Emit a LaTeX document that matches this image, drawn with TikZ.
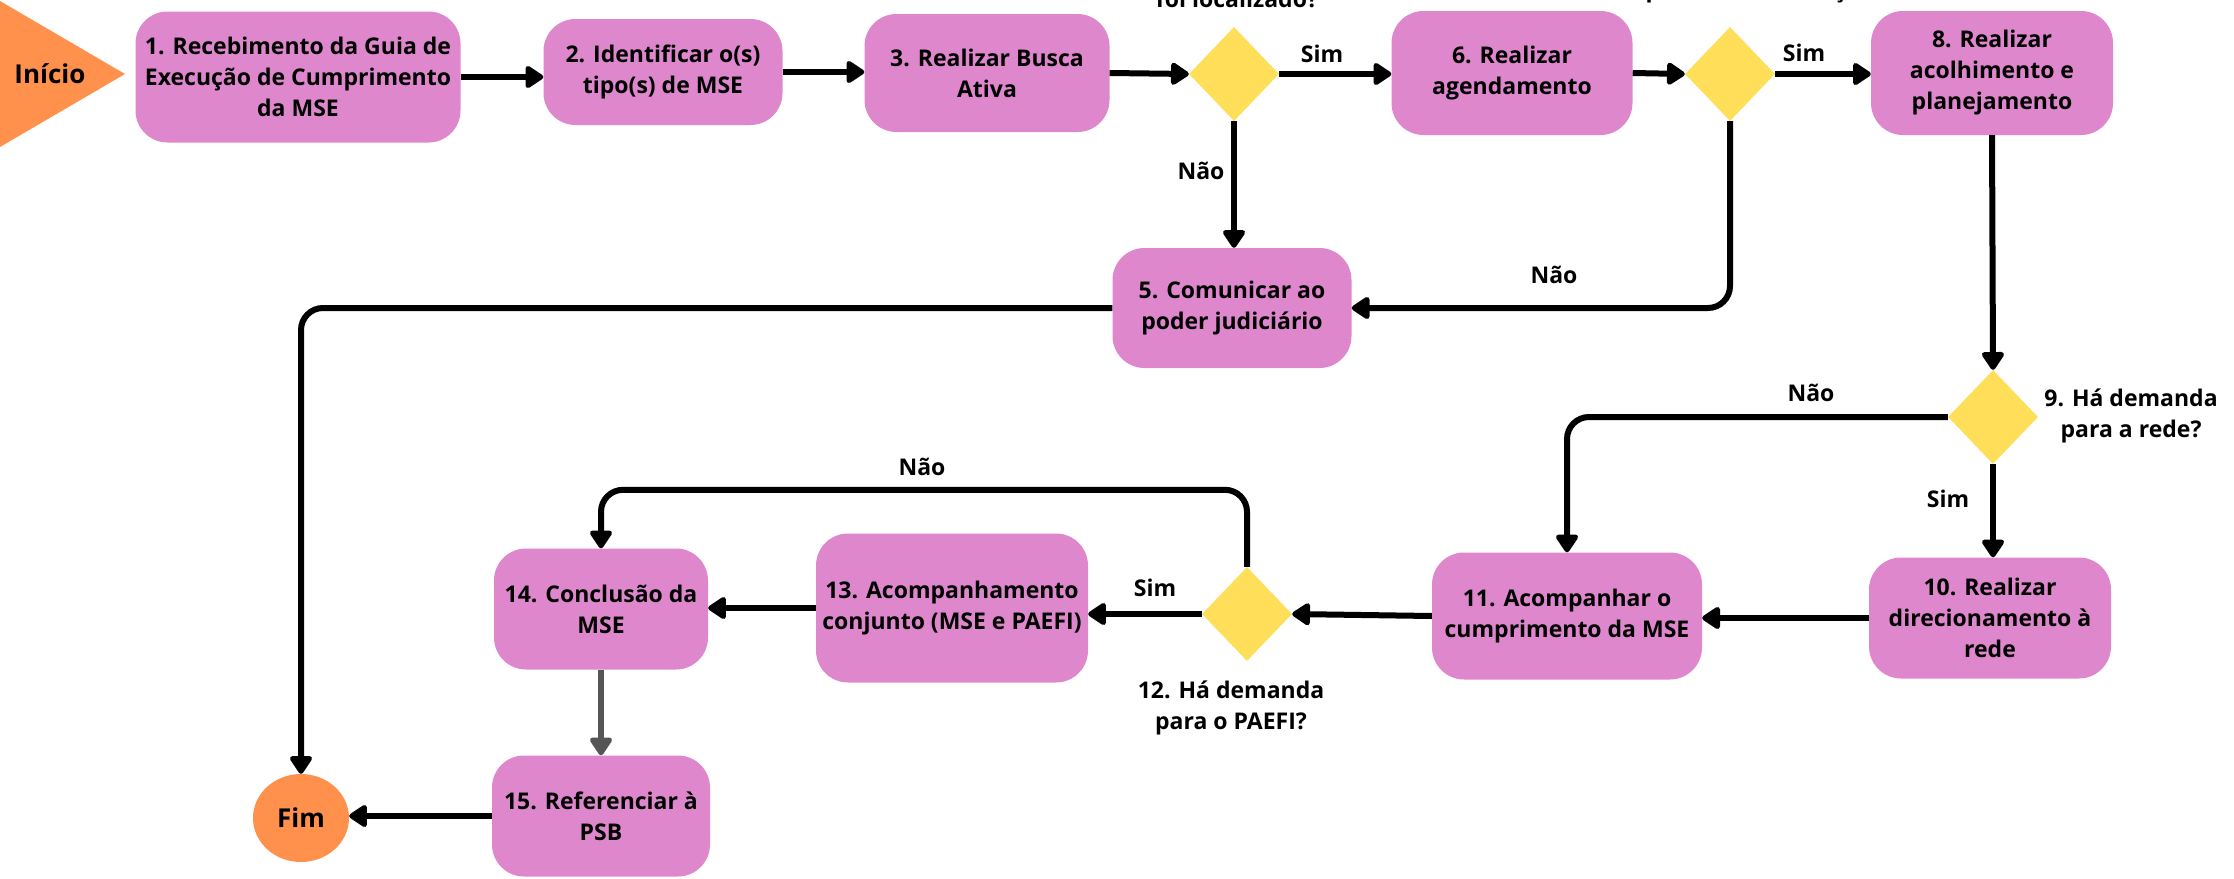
\documentclass[tikz,border=0pt]{standalone}
\usepackage{fontspec}
\setmainfont{Open Sans}
\usetikzlibrary{arrows.meta,shapes.geometric}
\definecolor{boxpink}{RGB}{222,135,204}
\definecolor{decyellow}{RGB}{255,222,89}
\definecolor{termorange}{RGB}{255,145,77}
\definecolor{greyline}{RGB}{85,85,85}
\tikzset{
  every node/.style={font=\fontsize{23}{31}\selectfont\bfseries, align=center, text=black},
  stepbox/.style={fill=boxpink, rounded corners=32pt, inner sep=0pt},
  decision/.style={diamond, fill=decyellow, minimum width=90pt, minimum height=94pt, inner sep=0pt},
  terminal/.style={font=\fontsize{26}{31}\selectfont\bfseries},
  flow/.style={line width=6pt, draw=black, rounded corners=22pt,
    -{Triangle[length=20pt,width=25pt,round]}},
  greyflow/.style={flow, draw=greyline}
}
\begin{document}
\begin{tikzpicture}[x=1pt,y=-1pt]
\useasboundingbox (0,0) rectangle (2234,878);
\clip (0,0) rectangle (2234,878);

% start and end
\fill[termorange] (0,1) -- (125,74) -- (0,147) -- cycle;
\node[terminal] (inicio) at (50,74) {Início};
\node[terminal, ellipse, fill=termorange, minimum width=96pt, minimum height=88pt, inner sep=0pt] (fim) at (301,818) {Fim};

% steps
\node[stepbox, minimum width=325pt, minimum height=131pt] (s1) at (298,77) {1. Recebimento da Guia de\\Execução de Cumprimento\\da MSE};
\node[stepbox, minimum width=239pt, minimum height=106pt] (s2) at (663,72) {2. Identificar o(s)\\tipo(s) de MSE};
\node[stepbox, minimum width=245pt, minimum height=118pt] (s3) at (987,73) {3. Realizar Busca\\Ativa};
\node[decision] (d4) at (1234,74) {};
\node[stepbox, minimum width=241pt, minimum height=124pt] (s6) at (1512,73) {6. Realizar\\agendamento};
\node[decision] (d7) at (1730,74) {};
\node[stepbox, minimum width=242pt, minimum height=124pt] (s8) at (1992,73) {8. Realizar\\acolhimento e\\planejamento};
\node[stepbox, minimum width=239pt, minimum height=120pt] (s5) at (1232,308) {5. Comunicar ao\\poder judiciário};
\node[decision] (d9) at (1993,417) {};
\node[stepbox, minimum width=242pt, minimum height=121pt] (s10) at (1990,618) {10. Realizar\\direcionamento à\\rede};
\node[stepbox, minimum width=270pt, minimum height=127pt] (s11) at (1567,616) {11. Acompanhar o\\cumprimento da MSE};
\node[decision] (d12) at (1247,614) {};
\node[stepbox, minimum width=272pt, minimum height=149pt] (s13) at (952,608) {13. Acompanhamento\\conjunto (MSE e PAEFI)};
\node[stepbox, minimum width=214pt, minimum height=121pt] (s14) at (601,609) {14. Conclusão da\\MSE};
\node[stepbox, minimum width=218pt, minimum height=121pt] (s15) at (601,816) {15. Referenciar à\\PSB};

% question texts (the first two run past the top edge)
\node[anchor=base] (q4) at (1237,8) {foi localizado?};
\node[anchor=base] (q7) at (1734,-2) {compareceu ao serviço?};
\node (q9) at (2131,416) {9. Há demanda\\para a rede?};
\node (q12) at (1231,708) {12. Há demanda\\para o PAEFI?};

% connectors
\draw[flow] (s1.east) -- (s1.east -| s2.west);
\draw[flow] (s2.east) -- (s2.east -| s3.west);
\draw[flow] (s3.east) -- (d4.west);
\draw[flow] (d4.east) -- (s6.west |- d4.east);
\draw[flow] (s6.east) -- (d7.west);
\draw[flow] (d7.east) -- (s8.west |- d7.east);
\draw[flow] (d4.south) -- (d4.south |- s5.north);
\draw[flow] (d7.south) |- (s5.east);
\draw[flow] (s5.west) -| (fim.north);
\draw[flow] (s8.south) -- (d9.north);
\draw[flow] (d9.west) -| (s11.north);
\draw[flow] (d9.south) -- (d9.south |- s10.north);
\draw[flow] (s10.west) -- (s10.west -| s11.east);
\draw[flow] (s11.west) -- (d12.east);
\draw[flow] (d12.west) -- (d12.west -| s13.east);
\draw[flow] (s13.west) -- (s13.west -| s14.east);
\draw[flow] (d12.north) -- ++(0,-77) -| (s14.north);
\draw[greyflow] (s14.south) -- (s15.north);
\draw[flow] (s15.west) -- (s15.west -| fim.east);

% branch labels
\node (l1) at (1322,54) {Sim};
\node (l2) at (1804,53) {Sim};
\node (l3) at (1201,171) {Não};
\node (l4) at (1554,275) {Não};
\node (l5) at (1811,393) {Não};
\node (l6) at (1948,499) {Sim};
\node (l7) at (922,467) {Não};
\node (l8) at (1155,588) {Sim};
\end{tikzpicture}
\end{document}
